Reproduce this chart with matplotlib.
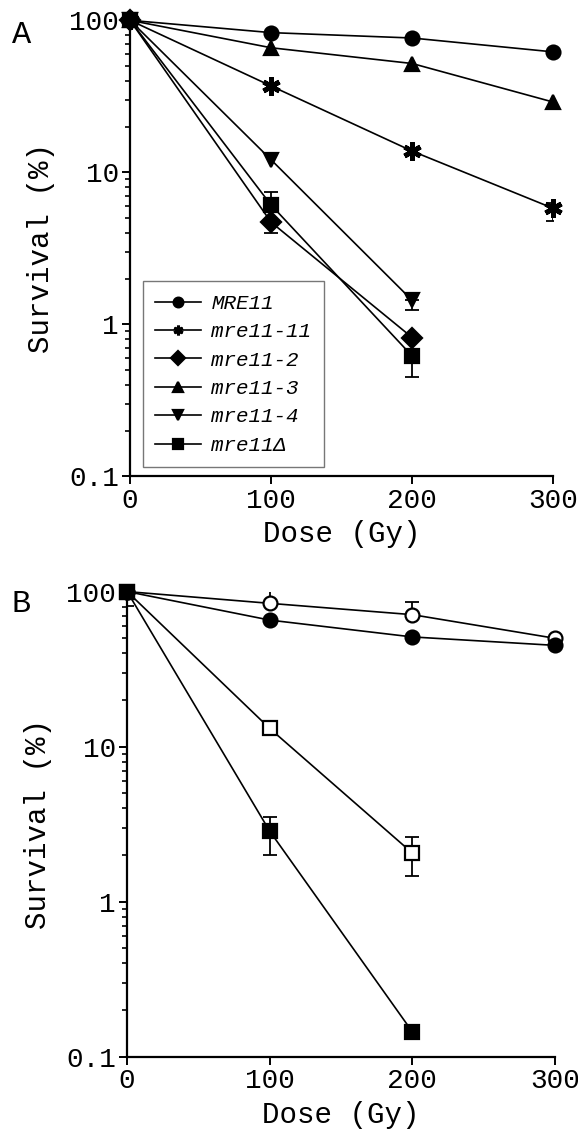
import numpy as np
import matplotlib
matplotlib.use('Agg')
import matplotlib.pyplot as plt
from matplotlib.ticker import LogLocator, FuncFormatter, NullFormatter

plt.rcParams['font.family'] = ['Liberation Mono', 'DejaVu Sans Mono']

dose = [0, 100, 200, 300]

# panel A: survival (%) per strain, error bars as (lower, upper)
a_names = ['MRE11', 'mre11-11', 'mre11-2', 'mre11-3', 'mre11-4', 'mre11\u0394']
a_markers = ['o', (6, 2, 0), 'D', '^', 'v', 's']
a_vals = [
    [100, 83, 76.5, 62],
    [100, 37, 13.8, 5.8],
    [100, 4.7, 0.82],
    [100, 66, 52, 29],
    [100, 12.1, 1.44],
    [100, 6.1, 0.62],
]
a_lo = [
    [0, 0, 0, 0],
    [0, 0, 0, 1.0],
    [0, 0.7, 0],
    [0, 0, 0, 0],
    [0, 0, 0.2],
    [0, 0, 0.17],
]
a_hi = [
    [0, 0, 0, 0],
    [0, 0, 0, 0.5],
    [0, 0, 0],
    [0, 0, 0, 0],
    [0, 0, 0],
    [0, 1.3, 0],
]

# panel B
b_markers = ['o', 'o', 's', 's']
b_filled = [False, True, False, True]
b_vals = [
    [100, 84, 71, 50],
    [100, 65.5, 51, 45],
    [100, 13.1, 2.06],
    [100, 2.85, 0.145],
]
b_lo = [
    [0, 0, 0, 0],
    [19, 0, 0, 0],
    [0, 0, 0.6],
    [0, 0.85, 0],
]
b_hi = [
    [0, 18, 15, 0],
    [18, 0, 0, 0],
    [0, 0, 0.55],
    [0, 0.65, 0],
]


def style_axes(ax):
    ax.set_yscale('log')
    ax.set_xlim(0, 300)
    ax.set_ylim(0.1, 100)
    ax.set_xticks(dose)
    ax.yaxis.set_major_locator(LogLocator(base=10, numticks=10))
    ax.yaxis.set_minor_locator(LogLocator(base=10, subs=np.arange(2, 10), numticks=10))
    ax.yaxis.set_major_formatter(FuncFormatter(lambda v, p: '%g' % v))
    ax.yaxis.set_minor_formatter(NullFormatter())
    for s in ['top', 'right']:
        ax.spines[s].set_visible(False)
    for s in ['left', 'bottom']:
        ax.spines[s].set_linewidth(1.6)
    ax.tick_params(which='major', direction='out', length=6, width=1.4, labelsize=20, pad=2)
    ax.tick_params(which='minor', direction='out', length=3.5, width=1.2)
    ax.set_xlabel('Dose (Gy)', fontsize=21, labelpad=5)
    ax.set_ylabel('Survival (%)', fontsize=21, labelpad=10)


def draw(ax, vals, lo, hi, marker, filled, label=None):
    x = np.array(dose[:len(vals)])
    y = np.array(vals, dtype=float)
    lo = np.array(lo, dtype=float)
    hi = np.array(hi, dtype=float)
    m = (lo > 0) | (hi > 0)
    if m.any():
        ax.errorbar(x[m], y[m], yerr=[lo[m], hi[m]], fmt='none', ecolor='black',
                    elinewidth=1.3, capsize=5, capthick=1.3, zorder=2)
    star = marker == (6, 2, 0)
    ax.plot(x, y, color='black', lw=1.2, marker=marker, ms=13 if star else 10,
            mfc='black' if filled else 'white', mec='black',
            mew=3.5 if star else 1.6, label=label, zorder=3, clip_on=False)


fig = plt.figure(figsize=(5.78, 11.29), dpi=100)
axA = fig.add_axes([0.225, 0.578, 0.732, 0.404])
axB = fig.add_axes([0.220, 0.064, 0.740, 0.412])

for i in range(len(a_names)):
    draw(axA, a_vals[i], a_lo[i], a_hi[i], a_markers[i], True, a_names[i])
style_axes(axA)
leg = axA.legend(loc='lower left', bbox_to_anchor=(0.03, 0.02), borderaxespad=0,
                 prop={'family': 'Liberation Mono', 'style': 'italic', 'size': 15},
                 fancybox=False, edgecolor='#777777', framealpha=1,
                 handlelength=2.2, labelspacing=0.45, borderpad=0.6, handletextpad=0.5)
for h in leg.legend_handles:
    h.set_markersize(7)
    if h.get_marker() == (6, 2, 0):
        h.set_markeredgewidth(2.2)
leg.get_frame().set_linewidth(1.0)

for i in range(len(b_vals)):
    draw(axB, b_vals[i], b_lo[i], b_hi[i], b_markers[i], b_filled[i])
style_axes(axB)

fig.text(0.02, 0.982, 'A', fontsize=23, va='top')
fig.text(0.02, 0.478, 'B', fontsize=23, va='top')

fig.savefig('out.png', dpi=100)
